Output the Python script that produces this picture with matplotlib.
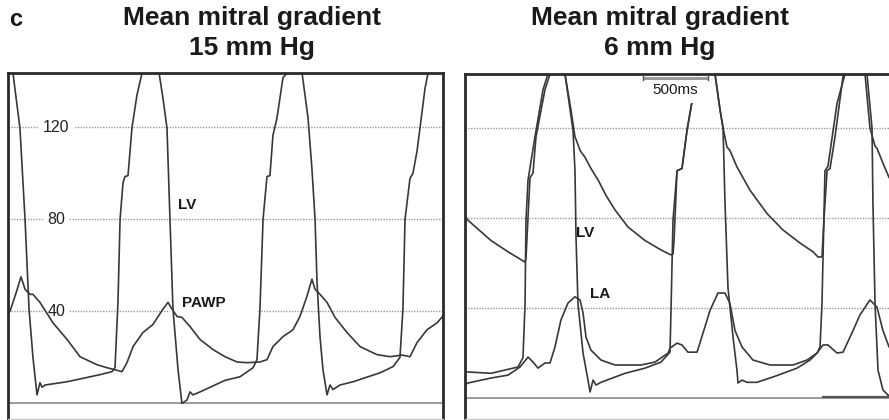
import matplotlib
matplotlib.use('Agg')
import matplotlib.pyplot as plt
from matplotlib.patches import Rectangle

plt.rcParams['font.family'] = ['Liberation Sans', 'DejaVu Sans']

# ---------------- data (time in s, pressure in mmHg) ----------------
# Left panel: mean mitral gradient 15 mm Hg
left_lv_t = [0.031, 0.038, 0.092, 0.131, 0.162, 0.192, 0.223, 0.246, 0.262, 0.285, 0.454, 0.708, 0.800,
             0.823, 0.846, 0.862, 0.885, 0.900, 0.923, 0.954, 0.992, 1.031, 1.092, 1.162, 1.192, 1.223,
             1.246, 1.269, 1.308, 1.338, 1.377, 1.400, 1.423, 1.477, 1.669, 1.785, 1.885, 1.915, 1.938,
             1.962, 1.992, 2.015, 2.038, 2.069, 2.115, 2.146, 2.208, 2.262, 2.308, 2.338, 2.362, 2.377,
             2.400, 2.423, 2.454, 2.477, 2.500, 2.554, 2.654, 2.862, 2.962, 3.015, 3.038, 3.054, 3.092,
             3.115, 3.146, 3.169, 3.208, 3.231, 3.262]
left_lv_p = [150, 143.6, 119.6, 80, 40.9, 20, 3.7, 9, 7, 8, 9.4, 12.5, 13.8,
             15.5, 44, 80, 96, 98.6, 99, 120, 134, 143.6, 152, 143.6, 132.7, 119.6,
             80, 41, 14.6, 0, 1.5, 5, 3.7, 5, 10, 11.6, 15.5, 19, 41,
             80, 98.6, 99, 116.5, 124, 141.5, 143.6, 152, 143.6, 124, 102, 80, 52.7,
             29, 14.6, 3.7, 8, 6, 8, 9.4, 13.3, 16, 20, 41, 80, 97.7,
             100, 109.5, 119.6, 137, 143.6, 150]

left_pawp_t = [0.000, 0.015, 0.062, 0.100, 0.131, 0.169, 0.192, 0.246, 0.346, 0.454, 0.554, 0.685, 0.762,
               0.823, 0.877, 0.915, 0.962, 1.038, 1.115, 1.192, 1.231, 1.262, 1.300, 1.338, 1.400, 1.477,
               1.577, 1.669, 1.762, 1.838, 1.938, 1.992, 2.038, 2.115, 2.192, 2.246, 2.300, 2.338, 2.362,
               2.400, 2.454, 2.515, 2.608, 2.708, 2.838, 2.938, 3.031, 3.092, 3.146, 3.223, 3.300, 3.346]
left_pawp_p = [39, 40, 48, 55, 49.6, 47.4, 47.4, 43.9, 35, 27.8, 20.3, 16.8, 15.5,
               14.6, 13.8, 17.7, 24.7, 30.8, 34.3, 41, 43.9, 41, 37.8, 37.4, 33.4, 27.8,
               23.4, 20.3, 18, 17.7, 18, 19, 24.7, 29, 32, 37.8, 46.6, 54, 49.6,
               47.4, 43.9, 37.4, 30.8, 24.7, 21.2, 20.3, 21, 20.3, 26.4, 32, 35, 38]

# Right panel: mean mitral gradient 6 mm Hg
right_lv_t = [0.000, 0.023, 0.200, 0.408, 0.446, 0.462, 0.469, 0.485, 0.538, 0.600, 0.638, 0.700, 0.769,
              0.831, 0.846, 0.854, 0.869, 0.908, 0.946, 0.962, 0.985, 1.008, 1.046, 1.231, 1.385, 1.508,
              1.577, 1.585, 1.600, 1.631, 1.669, 1.708, 1.746, 1.792, 1.846, 1.923, 1.962, 1.985, 2.000,
              2.023, 2.062, 2.092, 2.100, 2.131, 2.169, 2.246, 2.400, 2.554, 2.654, 2.708, 2.731, 2.746,
              2.769, 2.792, 2.862, 2.923, 3.000, 3.092, 3.131, 3.138, 3.154, 3.177, 3.215, 3.254, 3.346]
right_lv_p = [11.6, 11.6, 11, 13.8, 18, 42, 79, 97, 116, 137, 144, 152, 144,
              119, 101, 71.6, 42, 20, 8, 2.7, 8, 5.8, 7, 11, 13.3, 16,
              20.4, 40, 79, 101, 102, 119, 131.6, 144, 152, 144, 128, 120, 86.7,
              49, 27, 12.4, 6.7, 8, 7, 7, 10, 13.3, 16.9, 20, 22.7, 42,
              101, 103, 131, 144, 152, 144, 120, 86.7, 42, 12.4, 3.6, 1.3, 1]

right_ao_t = [0.000, 0.023, 0.200, 0.331, 0.462, 0.469, 0.500, 0.523, 0.546, 0.615, 0.654, 0.708, 0.769,
              0.815, 0.846, 0.854, 0.885, 0.923, 0.969, 1.023, 1.085, 1.154, 1.254, 1.385, 1.508, 1.585,
              1.600, 1.608, 1.631, 1.669, 1.708, 1.746, 1.792, 1.854, 1.923, 1.962, 1.985, 2.015, 2.038,
              2.092, 2.192, 2.323, 2.446, 2.577, 2.677, 2.715, 2.746, 2.762, 2.785, 2.808, 2.846, 2.908,
              3.000, 3.077, 3.115, 3.154, 3.169, 3.215, 3.262, 3.346]
right_ao_p = [81, 79, 70, 65, 60.4, 62, 98, 100, 116, 137, 144, 152, 144,
              128, 116, 115, 110, 107, 102, 97, 90, 83.6, 76, 70, 65.8, 63.6,
              64, 70, 101, 102, 119, 131.6, 144, 152, 144, 128, 120, 111.6, 110,
              102.7, 92.4, 82, 74.7, 68.9, 65, 62.7, 62.7, 80, 101, 102, 116, 143,
              152, 144, 120, 112, 111, 104.4, 98, 92]

right_la_t = [0.000, 0.023, 0.200, 0.331, 0.423, 0.485, 0.523, 0.562, 0.615, 0.654, 0.692, 0.738, 0.792,
              0.846, 0.885, 0.908, 0.931, 0.969, 1.046, 1.154, 1.354, 1.462, 1.562, 1.577, 1.631, 1.669,
              1.715, 1.785, 1.831, 1.885, 1.946, 2.000, 2.038, 2.077, 2.131, 2.215, 2.346, 2.523, 2.631,
              2.708, 2.754, 2.792, 2.862, 2.908, 2.977, 3.038, 3.115, 3.169, 3.215, 3.262, 3.346]
right_la_p = [6, 6.7, 8.9, 10.2, 13.8, 18.2, 16, 13.3, 15.6, 15.6, 22.7, 34.7, 42.2,
              45, 43.6, 37.8, 27, 21.3, 16.9, 14.7, 14.7, 16, 20, 22.2, 24.4, 23.6,
              20.4, 20.4, 28.9, 39, 46.7, 46.7, 42, 30, 22.7, 16.9, 14.7, 14.7, 16.9,
              20, 23.6, 23.6, 20, 20.4, 29, 36.9, 43.6, 40.4, 30, 22.7, 17]

grid_levels = [40, 80, 120]
grid_labels = ['40', '80', '120']
titles = ['Mean mitral gradient\n15 mm Hg', 'Mean mitral gradient\n6 mm Hg']
panel_letter = 'c'
scale_bar_s = 0.5
scale_bar_label = '500ms'
event_marker_t = [2.754, 3.346]
event_marker_p = [0.6, 0.6]

# ---------------- figure ----------------
W, H = 889, 420
fig = plt.figure(figsize=(W / 100, H / 100), dpi=100)
fig.patch.set_facecolor('white')

TRACE = '#383838'
GRID = '#9a9a9a'

axL = fig.add_axes([8 / W, 1 / H, 435 / W, 346 / H])
axR = fig.add_axes([465 / W, 1 / H, 435 / W, 345 / H])
axL.set_xlim(0, 435 / 130)
axL.set_ylim(-6.78, 143.6)
axR.set_xlim(0, 435 / 130)
axR.set_ylim(-9.3, 144)

for ax in (axL, axR):
    ax.set_xticks([])
    ax.set_yticks([])
    for s in ('top', 'left', 'right'):
        ax.spines[s].set_color('#2a2a2a')
        ax.spines[s].set_linewidth(2.0)
    ax.spines['bottom'].set_color('#c8c8c8')
    ax.spines['bottom'].set_linewidth(1.0)
    for g in grid_levels:
        ax.axhline(g, color=GRID, lw=1.0, ls=(0, (1, 1)), zorder=1)
    ax.axhline(0, color='#8a8a8a', lw=1.2, zorder=1)

# left panel
axL.plot(left_lv_t, left_lv_p, color=TRACE, lw=1.2, zorder=2)
axL.plot(left_pawp_t, left_pawp_p, color=TRACE, lw=1.2, zorder=2)
for g, lab in zip(grid_levels, grid_labels):
    axL.text(0.37, g, lab, fontsize=11.5, ha='center', va='center', color='#222222', zorder=1.5,
             bbox=dict(facecolor='white', edgecolor='none', pad=3.0))
axL.add_patch(Rectangle((1.246, 37.5), 0.67, 10.5, facecolor='white', edgecolor='none', zorder=1.5))
axL.text(1.377, 86.3, 'LV', fontsize=11, fontweight='bold', ha='center', va='center', color='#1a1a1a', zorder=4)
axL.text(1.508, 43.5, 'PAWP', fontsize=11, fontweight='bold', ha='center', va='center', color='#1a1a1a', zorder=4)

# right panel
axR.plot(right_ao_t, right_ao_p, color=TRACE, lw=1.2, zorder=2)
axR.plot(right_lv_t, right_lv_p, color=TRACE, lw=1.2, zorder=2)
axR.plot(right_la_t, right_la_p, color=TRACE, lw=1.2, zorder=2)
axR.plot(event_marker_t, event_marker_p, color='#555555', lw=1.6, zorder=2)
axR.add_patch(Rectangle((1.362, 131.1), 0.546, 11.8, facecolor='white', edgecolor='none', zorder=3))
bar_t0 = 1.369
axR.plot([bar_t0, bar_t0 + scale_bar_s], [142.3, 142.3], color='#9a9a9a', lw=2.2,
         solid_capstyle='butt', zorder=4)
axR.plot([bar_t0, bar_t0], [141.2, 143.4], color='#555555', lw=1, zorder=4)
axR.plot([bar_t0 + scale_bar_s, bar_t0 + scale_bar_s], [141.2, 143.4], color='#555555', lw=1, zorder=4)
axR.text(bar_t0 + scale_bar_s / 2, 136.9, scale_bar_label, fontsize=11, ha='center', va='center',
         color='#1a1a1a', zorder=4)
axR.text(0.927, 73.3, 'LV', fontsize=11, fontweight='bold', ha='center', va='center', color='#1a1a1a', zorder=4)
axR.text(1.038, 46.2, 'LA', fontsize=11, fontweight='bold', ha='center', va='center', color='#1a1a1a', zorder=4)

# titles
fig.text(252 / W, 1 - 33 / H, titles[0], fontsize=19, fontweight='bold', ha='center', va='center',
         linespacing=1.3, color='#1a1a1a')
fig.text(660 / W, 1 - 33 / H, titles[1], fontsize=19, fontweight='bold', ha='center', va='center',
         linespacing=1.3, color='#1a1a1a')
fig.text(16 / W, 1 - 19 / H, panel_letter, fontsize=17, fontweight='bold', ha='center', va='center',
         color='#1a1a1a')

fig.savefig('out.png', dpi=100, facecolor='white')
